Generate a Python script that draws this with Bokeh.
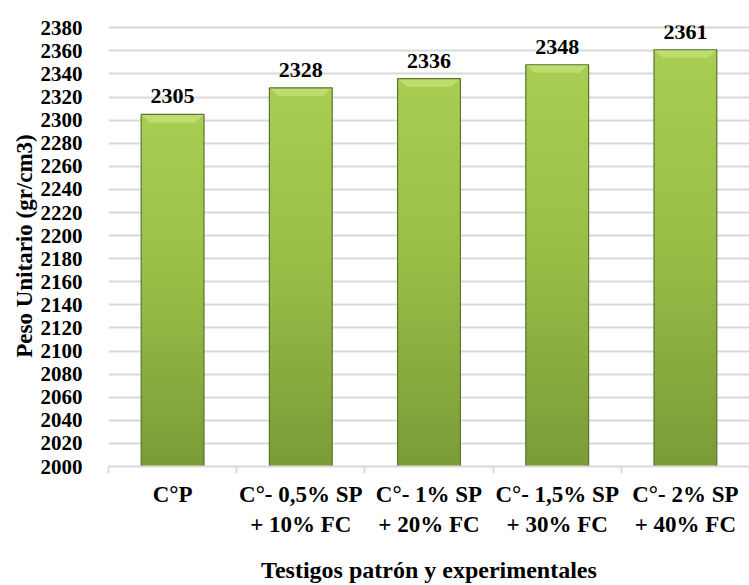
import numpy as np
from bokeh.plotting import figure
from bokeh.models import Range1d, FixedTicker, LinearAxis, ColumnDataSource
from bokeh.core.properties import value
from bokeh.embed import file_html
from bokeh.resources import INLINE

# Chart data
categories = ["C°P",
              "C°- 0,5% SP\n+ 10% FC",
              "C°- 1% SP\n+ 20% FC",
              "C°- 1,5% SP\n+ 30% FC",
              "C°- 2% SP\n+ 40% FC"]
peso_unitario = [2305, 2328, 2336, 2348, 2361]
y_ticks = list(range(2000, 2381, 20))

FONT = "Liberation Serif"
BASE = 2000
BAR_W = 0.49

p = figure(width=749, height=585, output_backend="svg", toolbar_location=None,
           x_range=Range1d(0, len(categories)), y_range=Range1d(BASE, 2382),
           min_border_left=108, min_border_right=0, min_border_top=25,
           min_border_bottom=0)
p.outline_line_color = None
p.background_fill_color = "white"
p.border_fill_color = "white"

# grid
p.ygrid.ticker = FixedTicker(ticks=y_ticks)
p.ygrid.grid_line_color = "#d9d9d9"
p.ygrid.grid_line_width = 2
p.xgrid.grid_line_color = None

# y axis
p.yaxis.ticker = FixedTicker(ticks=y_ticks)
p.yaxis.axis_line_color = None
p.yaxis.major_tick_line_color = None
p.yaxis.minor_tick_line_color = None
p.yaxis.major_label_standoff = 20
p.yaxis.major_label_text_font = FONT
p.yaxis.major_label_text_font_style = "bold"
p.yaxis.major_label_text_font_size = "21px"
p.yaxis.major_label_text_color = "black"
p.yaxis.axis_label = "Peso Unitario (gr/cm3)"
p.yaxis.axis_label_text_font = FONT
p.yaxis.axis_label_text_font_style = "bold"
p.yaxis.axis_label_text_font_size = "23px"
p.yaxis.axis_label_text_color = "black"
p.yaxis.axis_label_standoff = 1

# x axis: boundary ticks only
p.xaxis.ticker = FixedTicker(ticks=list(range(len(categories) + 1)))
p.xaxis.major_label_overrides = {i: "" for i in range(len(categories) + 1)}
p.xaxis.axis_line_color = "#d9d9d9"
p.xaxis.axis_line_width = 2
p.xaxis.major_tick_line_color = "#d9d9d9"
p.xaxis.major_tick_line_width = 2
p.xaxis.major_tick_out = 7
p.xaxis.major_tick_in = 0
p.xaxis.minor_tick_line_color = None
p.xaxis.major_label_text_font_size = "1px"
p.xaxis.major_label_standoff = 0

# category labels on a second axis below
centers = [i + 0.5 for i in range(len(categories))]
cat_axis = LinearAxis(ticker=FixedTicker(ticks=centers),
                      major_label_overrides={c: lab for c, lab in zip(centers, categories)})
cat_axis.axis_line_color = None
cat_axis.major_tick_line_color = None
cat_axis.minor_tick_line_color = None
cat_axis.major_label_text_font = FONT
cat_axis.major_label_text_font_style = "bold"
cat_axis.major_label_text_font_size = "23px"
cat_axis.major_label_text_color = "black"
cat_axis.major_label_standoff = 2
cat_axis.axis_label = "Testigos patrón y experimentales"
cat_axis.axis_label_text_font = FONT
cat_axis.axis_label_text_font_style = "bold"
cat_axis.axis_label_text_font_size = "24px"
cat_axis.axis_label_text_color = "black"
cat_axis.axis_label_standoff = 17
p.add_layout(cat_axis, "below")

# bars: vertical gradient built from stacked, slightly overlapping slices
N = 40
stops = np.array([[0x7b, 0x9b, 0x37], [0x9a, 0xbf, 0x47], [0xa9, 0xcd, 0x52]], float)
xs, bots, tops, cols = [], [], [], []
for c, v in zip(centers, peso_unitario):
    edges = np.linspace(BASE, v, N + 1)
    for k in range(N):
        t = (k + 0.5) / N
        if t < 0.55:
            rgb = stops[0] + (stops[1] - stops[0]) * (t / 0.55)
        else:
            rgb = stops[1] + (stops[2] - stops[1]) * ((t - 0.55) / 0.45)
        xs.append(c)
        bots.append(edges[k])
        tops.append(min(edges[k + 1] + 1.0, v))
        cols.append("#%02x%02x%02x" % tuple(int(round(x)) for x in rgb))
p.vbar(x=xs, bottom=bots, top=tops, width=BAR_W, fill_color=cols, line_color=None)

# top bevel highlight
bev_xs, bev_ys = [], []
for c, v in zip(centers, peso_unitario):
    h = 7
    d = 0.07
    bev_xs.append([c - BAR_W / 2, c + BAR_W / 2, c + BAR_W / 2 - d, c - BAR_W / 2 + d])
    bev_ys.append([v, v, v - h, v - h])
p.patches(bev_xs, bev_ys, fill_color="#c4e27a", fill_alpha=0.75, line_color=None)

# bar outline
p.vbar(x=centers, bottom=BASE, top=peso_unitario, width=BAR_W,
       fill_color=None, line_color="#5b7430", line_width=1.2)

# value labels
src = ColumnDataSource(dict(x=centers, y=peso_unitario,
                            t=[str(v) for v in peso_unitario]))
p.text(x="x", y="y", text="t", source=src, text_align="center",
       text_baseline="bottom", y_offset=-11,
       text_font=value(FONT), text_font_style="bold",
       text_font_size="22px", text_color="black")

open("out.html", "w").write(file_html(p, INLINE))
